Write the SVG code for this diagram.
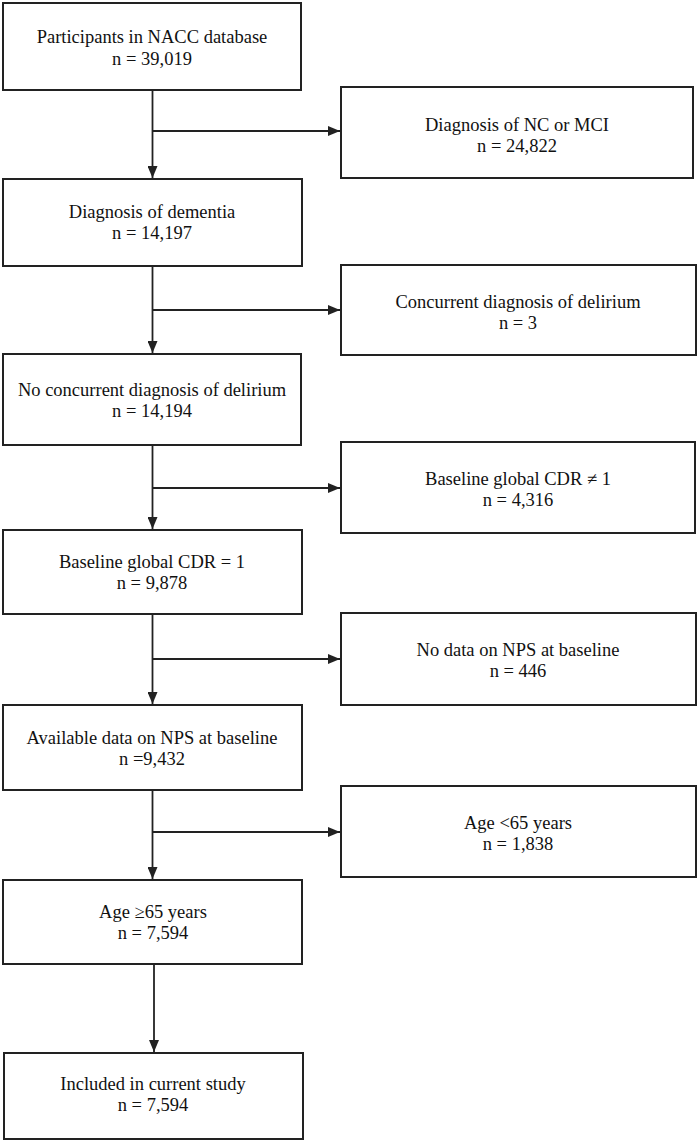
<svg xmlns="http://www.w3.org/2000/svg" width="700" height="1141" viewBox="0 0 700 1141">
<style>
.box{fill:#fff;stroke:#222;stroke-width:2}
.t{font-family:"Liberation Serif","Times New Roman",serif;font-size:18.5px;fill:#111;text-anchor:middle}
.c{fill:none;stroke:#222;stroke-width:1.8}
</style>
<defs>
<marker id="ah" markerWidth="12" markerHeight="10" refX="12" refY="5" orient="auto" markerUnits="userSpaceOnUse">
<path d="M0,0 L12,5 L0,10 Z" fill="#222"/>
</marker>
</defs>
<rect width="700" height="1141" fill="#fff"/>
<g id="connectors">
<path class="c" d="M152.5,90 V178" marker-end="url(#ah)"/>
<path class="c" d="M152.5,131 H340" marker-end="url(#ah)"/>
<path class="c" d="M152.5,266 V353" marker-end="url(#ah)"/>
<path class="c" d="M152.5,310 H340" marker-end="url(#ah)"/>
<path class="c" d="M152.5,445 V529" marker-end="url(#ah)"/>
<path class="c" d="M152.5,488 H340" marker-end="url(#ah)"/>
<path class="c" d="M152.5,614 V704" marker-end="url(#ah)"/>
<path class="c" d="M152.5,659 H340" marker-end="url(#ah)"/>
<path class="c" d="M152.5,790 V879" marker-end="url(#ah)"/>
<path class="c" d="M152.5,832 H340" marker-end="url(#ah)"/>
<path class="c" d="M154,964 V1052" marker-end="url(#ah)"/>
</g>
<g id="n1"><rect class="box" x="3" y="3" width="298" height="87"/><text class="t" x="152" y="43">Participants in NACC database</text><text class="t" x="152" y="65">n = 39,019</text></g>
<g id="r1"><rect class="box" x="341" y="87" width="352" height="91"/><text class="t" x="517" y="131">Diagnosis of NC or MCI</text><text class="t" x="517" y="152">n = 24,822</text></g>
<g id="n2"><rect class="box" x="3" y="179" width="299" height="87"/><text class="t" x="152" y="218">Diagnosis of dementia</text><text class="t" x="152" y="239">n = 14,197</text></g>
<g id="r2"><rect class="box" x="341" y="265" width="355" height="90"/><text class="t" x="518" y="308">Concurrent diagnosis of delirium</text><text class="t" x="518" y="329">n = 3</text></g>
<g id="n3"><rect class="box" x="3" y="354" width="298" height="91"/><text class="t" x="152" y="396">No concurrent diagnosis of delirium</text><text class="t" x="152" y="417">n = 14,194</text></g>
<g id="r3"><rect class="box" x="341" y="442" width="354" height="91"/><text class="t" x="518" y="485">Baseline global CDR ≠ 1</text><text class="t" x="518" y="506">n = 4,316</text></g>
<g id="n4"><rect class="box" x="3" y="530" width="299" height="84"/><text class="t" x="152" y="568">Baseline global CDR = 1</text><text class="t" x="152" y="589">n = 9,878</text></g>
<g id="r4"><rect class="box" x="341" y="613" width="355" height="92"/><text class="t" x="518" y="656">No data on NPS at baseline</text><text class="t" x="518" y="677">n = 446</text></g>
<g id="n5"><rect class="box" x="3" y="705" width="299" height="85"/><text class="t" x="152" y="744">Available data on NPS at baseline</text><text class="t" x="152" y="765">n =9,432</text></g>
<g id="r5"><rect class="box" x="341" y="786" width="355" height="91"/><text class="t" x="518" y="829">Age &lt;65 years</text><text class="t" x="518" y="850">n = 1,838</text></g>
<g id="n6"><rect class="box" x="3" y="880" width="299" height="84"/><text class="t" x="153" y="918">Age ≥65 years</text><text class="t" x="153" y="939">n = 7,594</text></g>
<g id="n7"><rect class="box" x="4" y="1053" width="299" height="86"/><text class="t" x="153" y="1090">Included in current study</text><text class="t" x="153" y="1111">n = 7,594</text></g>
</svg>
